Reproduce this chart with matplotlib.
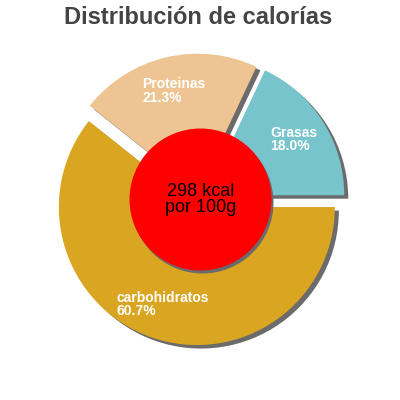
import matplotlib
matplotlib.use("Agg")
import matplotlib.pyplot as plt
from matplotlib.patches import Circle

# data
names = ["Grasas", "Proteinas", "carbohidratos"]
shares = [18.0, 21.3, 60.7]
colors = ["#78c4cd", "#eec592", "#daa520"]
kcal = 298
title = "Distribución de calorías"

plt.rcParams["font.family"] = ["Liberation Sans", "DejaVu Sans"]

fig = plt.figure(figsize=(4, 4), dpi=100)
ax = fig.add_axes([0, 0, 1, 1])

cx, cy, R = 199.5, 200.5, 138
explode = [8] * len(shares)  # pie takes this in data units here
labels = [f"{n}\n{v:.1f}%" for n, v in zip(names, shares)]

# shadow pass, shifted down-right
ax.pie(shares, radius=R, center=(cx + 4, cy - 3.5), explode=explode,
       colors=["#6b6b6b"] * len(shares), startangle=0, counterclock=True,
       frame=True, wedgeprops=dict(linewidth=0))

wedges, texts = ax.pie(shares, labels=labels, radius=R, center=(cx, cy),
                       explode=explode, colors=colors, startangle=0,
                       counterclock=True, labeldistance=0.75, frame=True,
                       wedgeprops=dict(linewidth=0),
                       textprops=dict(color="white", fontsize=10,
                                      fontweight="bold",
                                      ha="center", va="center",
                                      multialignment="left",
                                      linespacing=0.95))
ax.set_xlim(0, 400)
ax.set_ylim(0, 400)
ax.set_aspect("equal")
ax.axis("off")

# centre disc with its shadow
ax.add_patch(Circle((cx + 3, cy - 3), 71, color="#6b6b6b", lw=0, zorder=3))
ax.add_patch(Circle((cx + 1, cy), 71, color="#ff0000", lw=0, zorder=4))
ax.text(cx + 1, cy, f"{kcal} kcal\npor 100g", ha="center", va="center",
        fontsize=13, color="black", linespacing=0.95, zorder=5)

fig.text(0.495, 0.955, title, ha="center", va="center", fontsize=17,
         fontweight="bold", color="#444444")

fig.savefig("out.png", dpi=100)
